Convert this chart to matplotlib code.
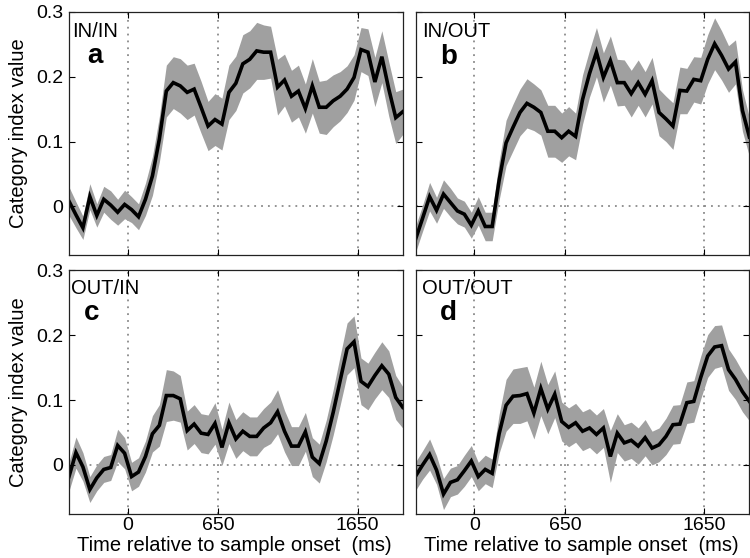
import numpy as np
import matplotlib
matplotlib.use("Agg")
import matplotlib.pyplot as plt

plt.rcParams['font.family'] = ['Liberation Sans', 'DejaVu Sans']

# ---------------- data ----------------
n_bins = 49
x_ticks = [0, 650, 1650]
x_ticklabels = ['0', '650', '1650']
y_ticks = [0, 0.1, 0.2, 0.3]
y_ticklabels = ['0', '0.1', '0.2', '0.3']

conditions = ['IN/IN', 'IN/OUT', 'OUT/IN', 'OUT/OUT']
letters = ['a', 'b', 'c', 'd']

mean_a = [0.008, -0.013, -0.033, 0.015, -0.014, 0.011, 0.002, -0.009, 0.003, -0.005,
          -0.016, 0.011, 0.047, 0.104, 0.178, 0.191, 0.186, 0.176, 0.181, 0.153,
          0.124, 0.134, 0.127, 0.176, 0.190, 0.220, 0.227, 0.240, 0.238, 0.238,
          0.184, 0.195, 0.170, 0.178, 0.151, 0.186, 0.153, 0.153, 0.163, 0.170,
          0.181, 0.199, 0.242, 0.238, 0.192, 0.231, 0.181, 0.137, 0.146]
sem_a = [0.022, 0.020, 0.018, 0.020, 0.018, 0.020, 0.022, 0.020, 0.022, 0.020,
         0.020, 0.025, 0.030, 0.035, 0.040, 0.040, 0.042, 0.042, 0.040, 0.040,
         0.038, 0.040, 0.040, 0.042, 0.042, 0.045, 0.044, 0.044, 0.042, 0.040,
         0.043, 0.040, 0.040, 0.040, 0.038, 0.042, 0.040, 0.042, 0.040, 0.038,
         0.036, 0.035, 0.034, 0.036, 0.038, 0.040, 0.042, 0.040, 0.035]

mean_b = [-0.050, -0.018, 0.015, -0.006, 0.019, 0.006, -0.007, -0.012, -0.029, -0.007,
          -0.031, -0.031, 0.040, 0.098, 0.122, 0.145, 0.159, 0.153, 0.145, 0.116,
          0.116, 0.106, 0.116, 0.108, 0.165, 0.205, 0.238, 0.199, 0.225, 0.191,
          0.191, 0.174, 0.191, 0.173, 0.194, 0.145, 0.135, 0.124, 0.179, 0.178,
          0.196, 0.194, 0.227, 0.251, 0.233, 0.212, 0.223, 0.148, 0.107]
sem_b = [0.020, 0.020, 0.022, 0.020, 0.022, 0.022, 0.020, 0.020, 0.020, 0.022,
         0.022, 0.022, 0.030, 0.035, 0.036, 0.036, 0.038, 0.036, 0.035, 0.040,
         0.040, 0.038, 0.038, 0.036, 0.038, 0.036, 0.038, 0.038, 0.038, 0.036,
         0.035, 0.036, 0.035, 0.035, 0.036, 0.036, 0.035, 0.036, 0.036, 0.035,
         0.035, 0.036, 0.038, 0.040, 0.038, 0.036, 0.034, 0.032, 0.030]

mean_c = [-0.018, 0.019, -0.003, -0.038, -0.020, -0.007, -0.004, 0.030, 0.018, -0.018,
          -0.011, 0.013, 0.048, 0.061, 0.107, 0.107, 0.102, 0.053, 0.063, 0.049,
          0.047, 0.064, 0.027, 0.065, 0.040, 0.052, 0.044, 0.044, 0.057, 0.065,
          0.082, 0.052, 0.029, 0.029, 0.051, 0.012, 0.002, 0.037, 0.081, 0.130,
          0.179, 0.190, 0.129, 0.121, 0.138, 0.153, 0.140, 0.104, 0.089]
sem_c = [0.022, 0.024, 0.022, 0.020, 0.020, 0.020, 0.020, 0.025, 0.024, 0.022,
         0.022, 0.024, 0.028, 0.032, 0.040, 0.038, 0.036, 0.030, 0.030, 0.030,
         0.030, 0.032, 0.028, 0.032, 0.030, 0.030, 0.030, 0.030, 0.030, 0.032,
         0.034, 0.032, 0.030, 0.030, 0.030, 0.030, 0.030, 0.032, 0.035, 0.038,
         0.040, 0.040, 0.036, 0.036, 0.036, 0.037, 0.036, 0.034, 0.032]

mean_d = [-0.017, 0.000, 0.016, -0.008, -0.045, -0.027, -0.023, -0.009, 0.006, -0.018,
          -0.007, -0.013, 0.048, 0.092, 0.106, 0.107, 0.110, 0.080, 0.118, 0.086,
          0.109, 0.067, 0.058, 0.065, 0.052, 0.057, 0.047, 0.057, 0.013, 0.049,
          0.034, 0.038, 0.029, 0.042, 0.026, 0.031, 0.044, 0.062, 0.063, 0.096,
          0.098, 0.135, 0.168, 0.182, 0.184, 0.147, 0.132, 0.113, 0.098]
sem_d = [0.022, 0.022, 0.024, 0.022, 0.024, 0.022, 0.022, 0.024, 0.024, 0.022,
         0.022, 0.022, 0.030, 0.040, 0.042, 0.043, 0.042, 0.040, 0.042, 0.038,
         0.036, 0.030, 0.030, 0.030, 0.030, 0.030, 0.030, 0.030, 0.040, 0.030,
         0.028, 0.028, 0.028, 0.028, 0.026, 0.026, 0.028, 0.030, 0.030, 0.032,
         0.032, 0.033, 0.033, 0.033, 0.032, 0.032, 0.031, 0.031, 0.030]

means = [mean_a, mean_b, mean_c, mean_d]
sems = [sem_a, sem_b, sem_c, sem_d]

x_min, x_max = -421, 1973
time_ms = np.linspace(x_min, x_max, n_bins)

# ---------------- figure ----------------
fig = plt.figure(figsize=(7.5, 5.58), dpi=100)
W, H = 750.0, 558.0
ax_w = 333.7 / W
ax_h = 243.0 / H
lefts = [69 / W, 415.7 / W]
bottoms = [1 - 255.0 / H, 1 - 513.5 / H]

positions = [(lefts[0], bottoms[0]), (lefts[1], bottoms[0]),
             (lefts[0], bottoms[1]), (lefts[1], bottoms[1])]

label_pos = [
    ((0.010, 0.897), (0.077, 0.790)),
    ((0.018, 0.897), (0.098, 0.786)),
    ((0.006, 0.905), (0.068, 0.796)),
    ((0.018, 0.905), (0.097, 0.796)),
]

grid_color = '#8a8a8a'
band_color = '#a0a0a0'

for i in range(4):
    l, b = positions[i]
    ax = fig.add_axes([l, b, ax_w, ax_h])
    m = np.array(means[i])
    s = np.array(sems[i])
    for xv in x_ticks:
        ax.axvline(xv, color=grid_color, linestyle=(0, (1, 2.8)), linewidth=1.3, zorder=0.5)
    ax.axhline(0, color=grid_color, linestyle=(0, (1, 2.8)), linewidth=1.3, zorder=0.5)
    ax.fill_between(time_ms, m - s, m + s, color=band_color, linewidth=0, zorder=1)
    ax.plot(time_ms, m, color='black', linewidth=2.6, zorder=2, solid_joinstyle='miter')
    ax.set_xlim(x_min, x_max)
    ax.set_ylim(-0.075, 0.3)
    ax.set_xticks(x_ticks)
    ax.set_yticks(y_ticks)
    ax.tick_params(direction='in', top=True, right=True, length=4, width=0.8,
                   labelsize=14)
    ax.tick_params(axis='x', pad=2.5)
    ax.tick_params(axis='y', pad=4)
    for sp in ax.spines.values():
        sp.set_linewidth(0.9)
        sp.set_color('#222222')
    if i in (0, 2):
        ax.set_yticklabels(y_ticklabels)
        ax.set_ylabel('Category index value', fontsize=14.5)
        ax.yaxis.set_label_coords(-0.122, 0.5)
    else:
        ax.set_yticklabels([])
    if i in (2, 3):
        ax.set_xticklabels(x_ticklabels)
        ax.set_xlabel('Time relative to sample onset  (ms)', fontsize=14.5, labelpad=0)
        ax.xaxis.set_label_coords(0.495, -0.092)
    else:
        ax.set_xticklabels([])
    (cx, cy), (lx, ly) = label_pos[i]
    ax.text(cx, cy, conditions[i], transform=ax.transAxes, fontsize=14.5,
            ha='left', va='baseline')
    ax.text(lx, ly, letters[i], transform=ax.transAxes, fontsize=20,
            fontweight='bold', ha='center', va='baseline')

fig.savefig('out.png', dpi=100)
